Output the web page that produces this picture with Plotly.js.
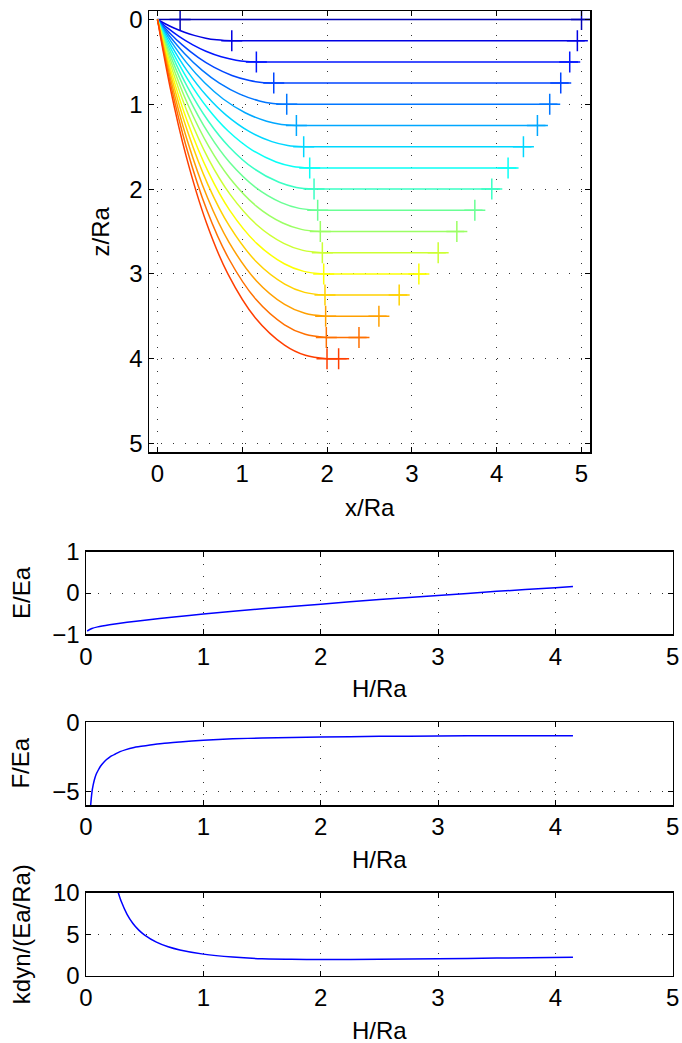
<!DOCTYPE html>
<html><head><meta charset="utf-8">
<script src="https://cdn.plot.ly/plotly-3.0.1.min.js"></script>
<style>html,body{margin:0;padding:0;background:#fff}#chart{width:682px;height:1043px}</style>
</head><body><div id="chart"></div>
<script>
// ---------- top panel: hanging profiles ----------
const depths = [0, 0.25, 0.5, 0.75, 1.0, 1.25, 1.5, 1.75, 2.0, 2.25, 2.5, 2.75, 3.0, 3.25, 3.5, 3.75, 4.0];
const touchX = [0.267, 0.876, 1.166, 1.371, 1.524, 1.638, 1.724, 1.795, 1.846, 1.889, 1.920, 1.944, 1.960, 1.975, 1.983, 1.991, 1.999];
const endMarkX = [5.0, 4.951, 4.861, 4.755, 4.625, 4.480, 4.315, 4.134, 3.942, 3.742, 3.530, 3.310, 3.082, 2.850, 2.611, 2.376, 2.136];
const lineEndX = [5.1, 5.038, 4.959, 4.849, 4.716, 4.575, 4.410, 4.233, 4.037, 3.833, 3.617, 3.400, 3.173, 2.945, 2.702, 2.466, 2.231];
const profileX = [
  [0, 0.267],
  [0, 0.090, 0.194, 0.318, 0.433, 0.569, 0.699, 0.787, 0.876],
  [0, 0.118, 0.253, 0.417, 0.571, 0.752, 0.927, 1.046, 1.166],
  [0, 0.135, 0.292, 0.483, 0.664, 0.878, 1.086, 1.228, 1.371],
  [0, 0.147, 0.318, 0.528, 0.730, 0.970, 1.202, 1.363, 1.524],
  [0, 0.154, 0.335, 0.559, 0.775, 1.034, 1.287, 1.462, 1.638],
  [0, 0.158, 0.346, 0.579, 0.806, 1.080, 1.349, 1.536, 1.724],
  [0, 0.161, 0.353, 0.594, 0.830, 1.116, 1.399, 1.596, 1.795],
  [0, 0.162, 0.356, 0.601, 0.843, 1.138, 1.433, 1.638, 1.846],
  [0, 0.162, 0.358, 0.606, 0.852, 1.156, 1.460, 1.673, 1.889],
  [0, 0.162, 0.357, 0.606, 0.856, 1.165, 1.477, 1.697, 1.920],
  [0, 0.160, 0.355, 0.604, 0.856, 1.170, 1.489, 1.715, 1.944],
  [0, 0.158, 0.351, 0.600, 0.852, 1.170, 1.495, 1.725, 1.960],
  [0, 0.156, 0.348, 0.596, 0.849, 1.169, 1.500, 1.734, 1.975],
  [0, 0.154, 0.343, 0.589, 0.842, 1.165, 1.499, 1.738, 1.983],
  [0, 0.152, 0.339, 0.583, 0.836, 1.160, 1.498, 1.741, 1.991],
  [0, 0.149, 0.335, 0.578, 0.830, 1.155, 1.498, 1.744, 1.999]
];
const profileZ = [
  [0, 0],
  [0, 0.05, 0.10, 0.15, 0.1875, 0.22, 0.24, 0.2475, 0.25],
  [0, 0.10, 0.20, 0.30, 0.375, 0.44, 0.48, 0.495, 0.5],
  [0, 0.15, 0.30, 0.45, 0.5625, 0.66, 0.72, 0.7425, 0.75],
  [0, 0.20, 0.40, 0.60, 0.75, 0.88, 0.96, 0.99, 1.0],
  [0, 0.25, 0.50, 0.75, 0.9375, 1.10, 1.20, 1.2375, 1.25],
  [0, 0.30, 0.60, 0.90, 1.125, 1.32, 1.44, 1.485, 1.5],
  [0, 0.35, 0.70, 1.05, 1.3125, 1.54, 1.68, 1.7325, 1.75],
  [0, 0.40, 0.80, 1.20, 1.50, 1.76, 1.92, 1.98, 2.0],
  [0, 0.45, 0.90, 1.35, 1.6875, 1.98, 2.16, 2.2275, 2.25],
  [0, 0.50, 1.00, 1.50, 1.875, 2.20, 2.40, 2.475, 2.5],
  [0, 0.55, 1.10, 1.65, 2.0625, 2.42, 2.64, 2.7225, 2.75],
  [0, 0.60, 1.20, 1.80, 2.25, 2.64, 2.88, 2.97, 3.0],
  [0, 0.65, 1.30, 1.95, 2.4375, 2.86, 3.12, 3.2175, 3.25],
  [0, 0.70, 1.40, 2.10, 2.625, 3.08, 3.36, 3.465, 3.5],
  [0, 0.75, 1.50, 2.25, 2.8125, 3.30, 3.60, 3.7125, 3.75],
  [0, 0.80, 1.60, 2.40, 3.00, 3.52, 3.84, 3.96, 4.0]
];
const curveColors = ['#0000B3','#0000E3','#0015FF','#0045FF','#0076FF','#00A7FF','#00D7FF','#09FFF6','#3AFFC5',
                     '#6AFF95','#9BFF64','#CCFF33','#FCFF03','#FFD100','#FFA000','#FF7000','#FF3F00'];

// ---------- lower panels ----------
const hE = [0.01, 0.05, 0.1, 0.2, 0.35, 0.5, 0.75, 1.0, 1.5, 2.0, 2.5, 3.0, 3.5, 4.0, 4.15];
const energy = [-0.92, -0.86, -0.82, -0.77, -0.71, -0.66, -0.58, -0.51, -0.38, -0.27, -0.16, -0.06, 0.04, 0.13, 0.16];
const hF = [0.040, 0.045, 0.051, 0.06, 0.071, 0.085, 0.105, 0.125, 0.148, 0.175, 0.205, 0.25, 0.29, 0.34, 0.40, 0.47, 0.546, 0.65, 0.80, 1.0, 1.25, 1.5, 2.0, 2.5, 3.0, 3.5, 4.15];
const force = [-6.0, -5.5, -5.04, -4.6, -4.19, -3.8, -3.46, -3.17, -2.93, -2.70, -2.50, -2.30, -2.13, -1.98, -1.84, -1.74, -1.65, -1.54, -1.43, -1.30, -1.20, -1.14, -1.07, -1.02, -0.99, -0.98, -0.97];
const hK = [0.275, 0.3, 0.35, 0.4, 0.45, 0.5, 0.6, 0.7, 0.8, 1.0, 1.25, 1.5, 1.75, 2.0, 2.5, 3.0, 3.5, 4.15];
const kdyn = [10, 8.96, 7.39, 6.29, 5.49, 4.89, 4.04, 3.48, 3.10, 2.60, 2.24, 2.04, 1.98, 1.96, 1.98, 2.04, 2.12, 2.22];

const W = 682, H = 1043;
const FONT = 'Liberation Sans, Arial, Helvetica, sans-serif';
const traces = [];
for (let i = 0; i < depths.length; i++) {
  const c = curveColors[i];
  traces.push({x: profileX[i], y: profileZ[i], type: 'scatter', mode: 'lines',
    line: {color: c, width: 1.5, shape: 'spline', smoothing: 1}, xaxis: 'x', yaxis: 'y', hoverinfo: 'skip'});
  traces.push({x: [touchX[i], lineEndX[i]], y: [depths[i], depths[i]], type: 'scatter', mode: 'lines',
    line: {color: c, width: 1.5}, xaxis: 'x', yaxis: 'y', hoverinfo: 'skip'});
  traces.push({x: [touchX[i], endMarkX[i]], y: [depths[i], depths[i]], type: 'scatter', mode: 'markers',
    marker: {symbol: 'cross-thin-open', size: 15, color: c, line: {color: c, width: 1.5}}, xaxis: 'x', yaxis: 'y', hoverinfo: 'skip'});
}
const blue = {color: '#0000FF', width: 1.5, shape: 'spline', smoothing: 0.6};
traces.push({x: hE, y: energy, type: 'scatter', mode: 'lines', line: blue, xaxis: 'x2', yaxis: 'y2'});
traces.push({x: hF, y: force, type: 'scatter', mode: 'lines', line: blue, xaxis: 'x3', yaxis: 'y3'});
traces.push({x: hK, y: kdyn, type: 'scatter', mode: 'lines', line: blue, xaxis: 'x4', yaxis: 'y4'});

function ax(extra) {
  return Object.assign({
    showline: true, linecolor: '#000', linewidth: 1.5, mirror: 'allticks',
    ticks: 'inside', ticklen: 5, tickwidth: 1, tickcolor: '#000',
    showgrid: true, gridcolor: '#333', griddash: '1px,11px', gridwidth: 1,
    zeroline: false, automargin: false, fixedrange: true,
    tickfont: {family: FONT, size: 24, color: '#000'}
  }, extra);
}
function px(v) { return v / W; }
function py(v) { return 1 - v / H; }

const lowX = [px(86), px(672.7)];
const layout = {
  width: W, height: H, margin: {l: 0, r: 0, t: 0, b: 0},
  paper_bgcolor: '#fff', plot_bgcolor: '#fff', showlegend: false,
  font: {family: FONT, size: 24, color: '#000'},
  xaxis: ax({domain: [px(149), px(590)], range: [-0.1, 5.1], tickvals: [0,1,2,3,4,5], anchor: 'y'}),
  yaxis: ax({domain: [py(452), py(11)], range: [5.1, -0.1], tickvals: [0,1,2,3,4,5], anchor: 'x'}),
  xaxis2: ax({domain: lowX, range: [0, 5], tickvals: [0,1,2,3,4,5], anchor: 'y2'}),
  yaxis2: ax({domain: [py(634.3), py(551.7)], range: [-1, 1], tickvals: [-1,0,1], anchor: 'x2'}),
  xaxis3: ax({domain: lowX, range: [0, 5], tickvals: [0,1,2,3,4,5], anchor: 'y3'}),
  yaxis3: ax({domain: [py(805), py(722.3)], range: [-6, 0], tickvals: [-5,0], anchor: 'x3'}),
  xaxis4: ax({domain: lowX, range: [0, 5], tickvals: [0,1,2,3,4,5], anchor: 'y4'}),
  yaxis4: ax({domain: [py(975.7), py(892.7)], range: [0, 10], tickvals: [0,5,10], anchor: 'x4'}),
  annotations: [
    {text: 'x/Ra', x: px(369.5), y: py(507)},
    {text: 'z/Ra', x: px(100), y: py(231.5), textangle: -90},
    {text: 'H/Ra', x: px(379.4), y: py(688)},
    {text: 'E/Ea', x: px(21), y: py(593), textangle: -90},
    {text: 'H/Ra', x: px(379.4), y: py(859)},
    {text: 'F/Ea', x: px(21), y: py(763.6), textangle: -90},
    {text: 'H/Ra', x: px(379.4), y: py(1030)},
    {text: 'kdyn/(Ea/Ra)', x: px(21), y: py(934.2), textangle: -90}
  ].map(a => Object.assign({xref: 'paper', yref: 'paper', showarrow: false, xanchor: 'center', yanchor: 'middle',
    font: {family: FONT, size: 24, color: '#000'}}, a))
};
Plotly.newPlot('chart', traces, layout, {staticPlot: true, displayModeBar: false});
</script>
</body></html>
